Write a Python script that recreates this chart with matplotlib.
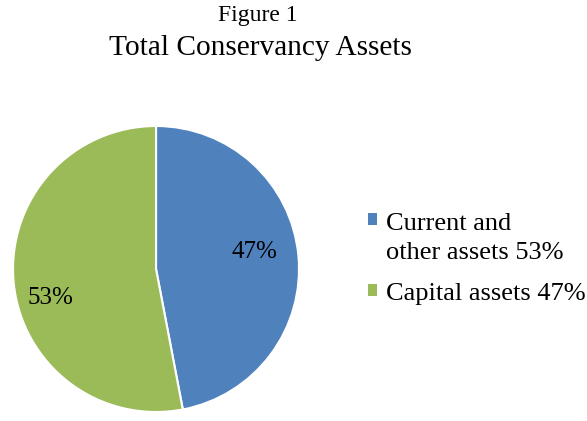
import matplotlib
matplotlib.use("Agg")
import matplotlib.pyplot as plt

# --- Data ---
labels = ["Current and\nother assets 53%", "Capital assets 47%"]
shares = [47, 53]
colors = ["#4F81BD", "#9BBB59"]

plt.rcParams["font.family"] = ["Liberation Serif", "DejaVu Serif"]

fig = plt.figure(figsize=(5.87, 4.21), dpi=100)
fig.text(0.439, 0.963, "Figure 1", ha="center", va="center", fontsize=17)
fig.text(0.443, 0.887, "Total Conservancy Assets", ha="center", va="center", fontsize=21.2)

ax = fig.add_axes([0.0222, 0.0214, 0.4872, 0.6793])
wedges, texts, autotexts = ax.pie(
    shares, colors=colors, startangle=90, counterclock=False,
    autopct="%1.0f%%", pctdistance=0.70,
    wedgeprops=dict(edgecolor="white", linewidth=1.5),
    textprops=dict(fontsize=18, color="black"))
autotexts[0].set_position((0.69, 0.12))
autotexts[1].set_position((-0.74, -0.2))
ax.set_xlim(-1.0, 1.0); ax.set_ylim(-1.0, 1.0)
ax.set_aspect("equal")
ax.axis("off")

leg = fig.legend(wedges, labels, loc="center left", bbox_to_anchor=(0.587, 0.385),
                 frameon=False, fontsize=19, handlelength=0.33, handleheight=0.33,
                 handletextpad=0.35, labelspacing=0.72)
for t in leg.get_texts():
    t.set_linespacing(1.4)
for h in leg.legend_handles:
    h.set_edgecolor("none")
# put the first marker next to the first line of its two-line label
h0 = leg.legend_handles[0]
h0.set_y(h0.get_y() + 13.5)

fig.savefig("out.png", dpi=100)
